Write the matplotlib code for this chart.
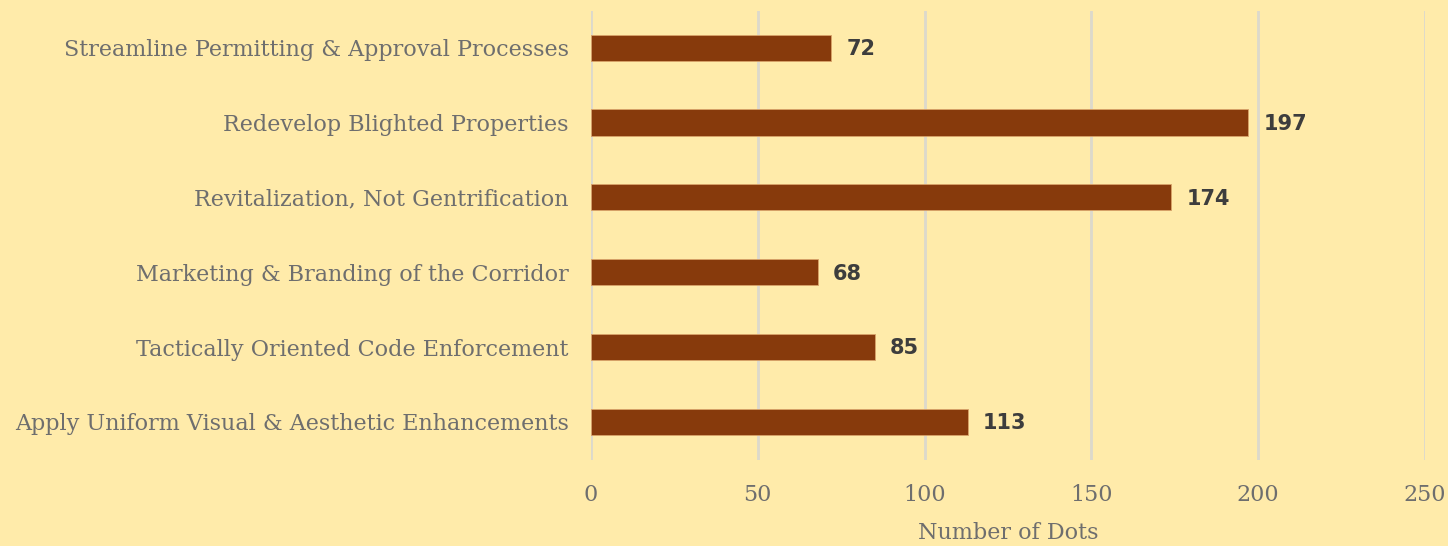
import numpy as np
import matplotlib.pyplot as plt

categories = [
    "Apply Uniform Visual & Aesthetic Enhancements",
    "Tactically Oriented Code Enforcement",
    "Marketing & Branding of the Corridor",
    "Revitalization, Not Gentrification",
    "Redevelop Blighted Properties",
    "Streamline Permitting & Approval Processes",
]
dots = [113, 85, 68, 174, 197, 72]
x_ticks = [0, 50, 100, 150, 200, 250]

bg = "#FFEBAA"
bar_color = "#873A0C"
text_color = "#6E6E6E"
serif = "DejaVu Serif"

fig = plt.figure(figsize=(14.48, 5.46), dpi=100, facecolor=bg)
ax = fig.add_axes([591 / 1448, 1 - 460 / 546, 834 / 1448, 449 / 546])
ax.set_facecolor(bg)

y = np.arange(len(categories))
ax.barh(y, dots, height=0.35, color=bar_color, edgecolor="#D9A36A", linewidth=0.6, zorder=3)

# value labels just past the end of each bar
for yi, v in zip(y, dots):
    ax.text(v + 4.5, yi - 0.02, str(v), va="center", ha="left", fontsize=15,
            fontweight="bold", family="DejaVu Sans", color="#3d3d3d", zorder=4)

ax.set_xlim(0, 250)
ax.set_ylim(-0.51, 5.49)
ax.set_xticks(x_ticks)
ax.set_yticks(y)
ax.set_yticklabels(categories)
ax.grid(axis="x", color="#DCD9CC", linewidth=2, zorder=0)
for s in ax.spines.values():
    s.set_visible(False)
ax.tick_params(length=0)
ax.tick_params(axis="y", pad=16)
ax.tick_params(axis="x", pad=17)
for lbl in ax.get_xticklabels() + ax.get_yticklabels():
    lbl.set_family(serif)
    lbl.set_fontsize(16)
    lbl.set_color(text_color)

ax.set_xlabel("Number of Dots", family=serif, fontsize=16,
              color=text_color, labelpad=12)

fig.savefig("out.png", dpi=100, facecolor=bg)
